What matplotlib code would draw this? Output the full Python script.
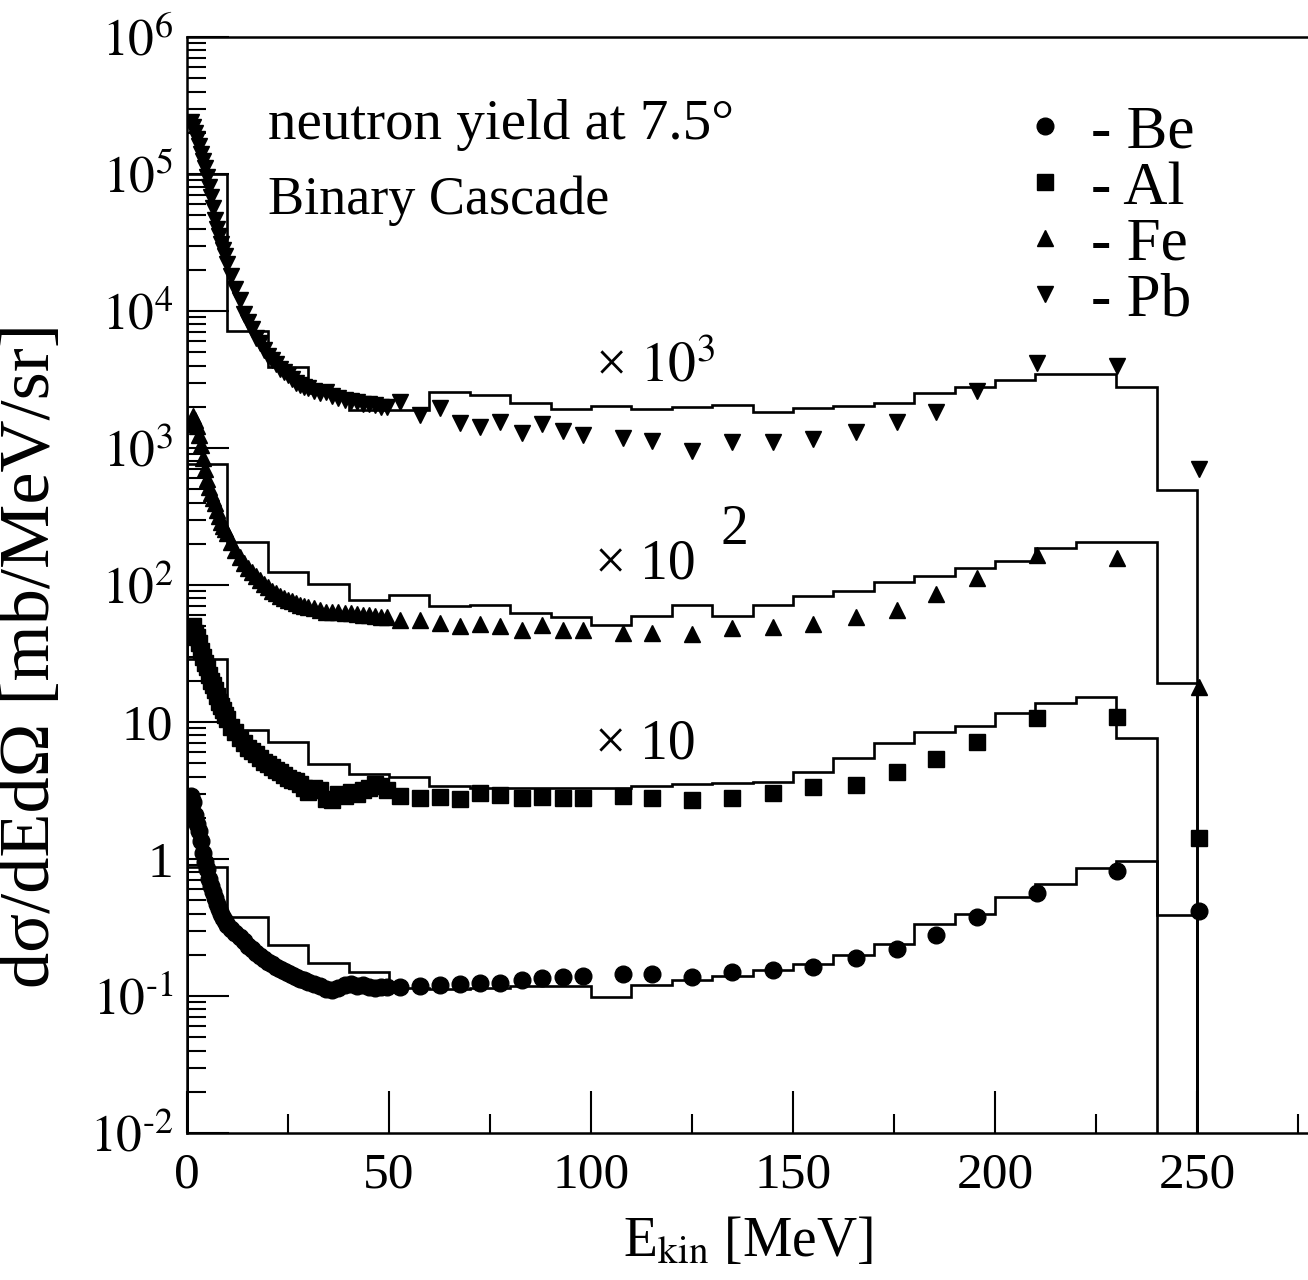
"""Neutron yield at 7.5 deg, Binary Cascade vs. data (Be, Al, Fe, Pb)."""

import numpy as np
import matplotlib
matplotlib.use("Agg")
import matplotlib.pyplot as plt
from matplotlib.ticker import FixedLocator, FixedFormatter, LogLocator, NullFormatter

plt.rcParams['font.family'] = ['Liberation Serif', 'DejaVu Serif']
plt.rcParams['mathtext.fontset'] = 'stix'

# --- measured points (energies in MeV) ---
E_dense = [1, 1.5, 2, 2.5, 3, 3.5, 4, 4.5, 5, 5.5, 6, 6.5, 7, 7.5, 8, 8.5, 9, 9.5,
           10, 11, 12, 13, 14, 15, 16, 17, 18, 19, 20, 21, 22, 23, 24, 25, 26, 27,
           28, 29, 30, 31.5, 33, 34.5, 36, 37.5, 39, 40.5, 42, 43.5, 45, 46.5, 48, 49.5]
E_sparse = [52.7, 57.7, 62.6, 67.6, 72.5, 77.5, 83, 88, 93, 98, 108, 115, 125,
            135, 145, 155, 165.5, 175.7, 185.5, 195.5, 210.4, 230.3, 250.5]

pb_dense = [2.4e5, 2.2e5, 2.0e5, 1.8e5, 1.6e5, 1.4e5, 1.25e5, 1.1e5, 9.5e4, 8e4, 6.8e4,
            5.6e4, 4.6e4, 4.0e4, 3.5e4, 3.1e4, 2.8e4, 2.5e4, 2.2e4, 1.8e4, 1.45e4, 1.2e4,
            9.5e3, 8.3e3, 7.4e3, 6.4e3, 5.8e3, 5.2e3, 4.7e3, 4.4e3, 4.1e3, 3.8e3, 3.6e3,
            3.4e3, 3.2e3, 3.0e3, 2.9e3, 2.8e3, 2.75e3, 2.6e3, 2.5e3, 2.55e3, 2.4e3, 2.3e3,
            2.25e3, 2.2e3, 2.15e3, 2.1e3, 2.1e3, 2.05e3, 2.0e3, 2.0e3]
pb_sparse = [2170, 1740, 1960, 1520, 1420, 1560, 1280, 1500, 1330, 1250, 1190, 1130, 943,
             1110, 1110, 1170, 1310, 1560, 1830, 2600, 4170, 4000, 707]

fe_dense = [1500, 1700, 1600, 1450, 1250, 1050, 850, 700, 590, 520, 470, 430, 400, 350,
            320, 290, 270, 255, 240, 205, 180, 160, 145, 133, 124, 116, 109, 102, 96, 91,
            87, 83, 80, 78, 76, 74, 72, 70, 69, 68, 66, 64, 63, 63, 62, 62, 61, 60, 60,
            59, 58, 58]
fe_sparse = [55.6, 55.6, 53, 50, 52, 50, 47, 51, 47, 47, 45, 45, 44, 48.5, 49, 52, 58,
             66, 86, 112, 166, 157, 18]

al_dense = [48, 50, 45, 42, 38, 33, 30, 27, 25, 22, 20, 18.5, 17, 15.5, 14, 13, 12.3,
            11.3, 10.5, 9.2, 8.4, 7.6, 7.0, 6.5, 6.1, 5.8, 5.5, 5.1, 4.9, 4.7, 4.5, 4.3,
            4.1, 3.9, 3.8, 3.7, 3.5, 3.3, 3.1, 3.3, 3.2, 2.75, 2.7, 3.0, 2.9, 3.1, 3.0,
            3.2, 3.3, 3.5, 3.4, 3.2]
al_sparse = [2.88, 2.79, 2.83, 2.74, 3.03, 2.93, 2.79, 2.83, 2.79, 2.79, 2.88, 2.79, 2.7,
             2.79, 3.03, 3.36, 3.47, 4.3, 5.37, 7.1, 10.7, 10.9, 1.42]

be_dense = [2.9, 2.6, 2.1, 1.8, 1.6, 1.35, 1.1, 0.95, 0.85, 0.72, 0.63, 0.57, 0.52, 0.47,
            0.43, 0.40, 0.37, 0.35, 0.33, 0.31, 0.29, 0.27, 0.25, 0.23, 0.22, 0.205, 0.195,
            0.185, 0.178, 0.17, 0.163, 0.157, 0.152, 0.147, 0.142, 0.138, 0.134, 0.13,
            0.127, 0.123, 0.118, 0.112, 0.11, 0.114, 0.12, 0.122, 0.118, 0.12, 0.117,
            0.115, 0.117, 0.116]
be_sparse = [0.117, 0.118, 0.12, 0.122, 0.125, 0.125, 0.13, 0.135, 0.137, 0.14, 0.145,
             0.145, 0.138, 0.15, 0.155, 0.163, 0.19, 0.22, 0.28, 0.38, 0.56, 0.82, 0.42]

# --- Binary Cascade histograms, 10 MeV bins ---
hist_edges = np.arange(0, 251, 10)
pb_hist = [1e5, 7200, 3900, 2520, 1900, 1900, 2570, 2440, 2140, 1930, 2030, 1930, 2000,
           2050, 1830, 1960, 2030, 2140, 2520, 2790, 3150, 3450, 3450, 2790, 490]
fe_hist = [760, 206, 124, 102, 78, 84, 70, 72, 62, 58, 51, 59, 71, 59, 71, 83, 91, 105,
           117, 132, 149, 186, 206, 206, 19.3]
al_hist = [29, 8.75, 7.1, 4.9, 4.2, 4.0, 3.4, 3.3, 3.3, 3.3, 3.3, 3.4, 3.5, 3.6, 3.65,
           4.3, 5.5, 7.0, 8.5, 9.3, 11.6, 13.8, 15.2, 7.6]
be_hist = [0.87, 0.38, 0.235, 0.174, 0.15, 0.115, 0.113, 0.115, 0.118, 0.118, 0.098,
           0.12, 0.13, 0.14, 0.155, 0.17, 0.2, 0.24, 0.336, 0.40, 0.53, 0.66, 0.86, 0.97,
           0.39]

labels = ['- Be', '- Al', '- Fe', '- Pb']
markers = ['o', 's', '^', 'v']

fig = plt.figure(figsize=(13.08, 12.8), dpi=100)
ax = fig.add_axes([187 / 1308, 1 - 1133 / 1280, 1 - 187 / 1308, (1133 - 37) / 1280])

handles = []
for dense, sparse, hist, m, lab in zip([be_dense, al_dense, fe_dense, pb_dense],
                                       [be_sparse, al_sparse, fe_sparse, pb_sparse],
                                       [be_hist, al_hist, fe_hist, pb_hist],
                                       markers, labels):
    ax.stairs(hist, hist_edges[:len(hist) + 1], baseline=1e-4, color='black', lw=1.9)
    h, = ax.plot(E_dense + E_sparse, dense + sparse, ls='none', marker=m, ms=12,
                 color='black', label=lab)
    handles.append(h)

ax.set_yscale('log')
ax.set_xlim(0, 277.5)
ax.set_ylim(1e-2, 1e6)

ax.xaxis.set_major_locator(FixedLocator([0, 50, 100, 150, 200, 250]))
ax.xaxis.set_minor_locator(FixedLocator([25, 75, 125, 175, 225, 275]))
ylab_pos = [1e-2, 1e-1, 1, 10, 1e2, 1e3, 1e4, 1e5, 1e6]
ylab_txt = ['$10^{\\text{-}2}$', '$10^{\\text{-}1}$', '1', '10', '$10^{2}$', '$10^{3}$',
            '$10^{4}$', '$10^{5}$', '$10^{6}$']
ax.yaxis.set_major_locator(FixedLocator(ylab_pos))
ax.yaxis.set_major_formatter(FixedFormatter(ylab_txt))
ax.yaxis.set_minor_locator(LogLocator(base=10, subs=np.arange(2, 10), numticks=20))
ax.yaxis.set_minor_formatter(NullFormatter())

ax.tick_params(which='both', direction='in', width=1.5, labelsize=37,
               top=False, right=False)
ax.tick_params(which='major', length=30)
ax.tick_params(which='minor', length=14)
ax.tick_params(axis='x', pad=14)
ax.tick_params(axis='y', pad=10)
for s in ['left', 'bottom', 'top']:
    ax.spines[s].set_linewidth(1.8)
ax.spines['right'].set_visible(False)

ax.set_xlabel('E$_{\\mathrm{kin}}$ [MeV]', fontsize=40, labelpad=12)
ax.set_ylabel('d\u03c3/dEd\u03a9 [mb/MeV/sr]', fontsize=52)
ax.yaxis.set_label_coords(-0.11, 0.436)

ax.text(0.072, 0.92, 'neutron yield at 7.5\u00b0', transform=ax.transAxes,
        fontsize=41, va='center')
ax.text(0.072, 0.851, 'Binary Cascade', transform=ax.transAxes, fontsize=39,
        va='center')

ax.text(101, 10**3.59, '\u00d7 $10^{3}$', fontsize=40, va='center')
ax.text(101, 140, '\u00d7 10', fontsize=40, va='center')
ax.text(132, 10**2.4, '2', fontsize=40, va='center')
ax.text(101, 6.8, '\u00d7 10', fontsize=40, va='center')

ax.legend(handles=handles, loc='upper left', bbox_to_anchor=(0.70, 0.977),
          frameon=False, fontsize=44, handlelength=1.0, handletextpad=0.25,
          labelspacing=0.0, borderpad=0.2)

fig.savefig('out.png', dpi=100)
